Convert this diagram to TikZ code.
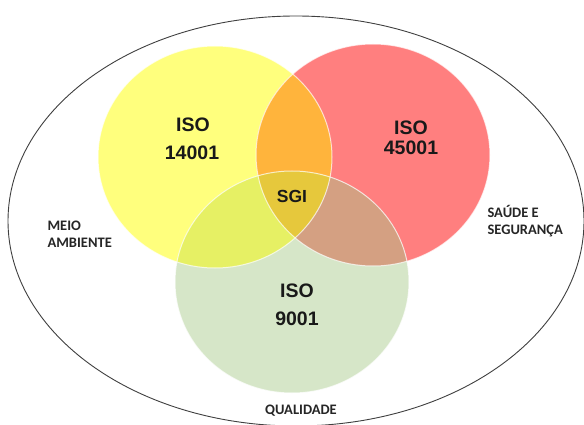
\documentclass[tikz,border=0pt]{standalone}
\usepackage{fontspec}
\setmainfont{Liberation Sans}
\newfontfamily\labelfont{Carlito}
\definecolor{cYel}{HTML}{FFFF7D}
\definecolor{cRed}{HTML}{FF7F7F}
\definecolor{cGrn}{HTML}{D6E6C8}
\definecolor{cYR}{HTML}{FFB43C}
\definecolor{cYG}{HTML}{E6F064}
\definecolor{cRG}{HTML}{D4A082}
\definecolor{cAll}{HTML}{E6C83C}
\definecolor{cLine}{HTML}{404040}
\begin{document}
\begin{tikzpicture}[x=1pt,y=-1pt,
  isolabel/.style={font=\bfseries\fontsize{19.5}{28}\selectfont, text=black!90, anchor=base},
  sidelabel/.style={font=\labelfont\bfseries\fontsize{14.5}{16}\selectfont, text=black!85, anchor=base west},
  rim/.style={draw=white, line width=1pt, draw opacity=0.7}]
\useasboundingbox (0,0) rectangle (584,425);
\clip (0,0) rectangle (584,425);
\fill[white] (0,0) rectangle (584,425);
% outer ellipse
\draw[cLine, line width=0.9pt] (296,221) ellipse [x radius=288, y radius=205];
% circles
\fill[cYel] (215,157) ellipse [x radius=117, y radius=111];
\fill[cRed] (373,155) ellipse [x radius=117, y radius=111];
\fill[cGrn] (292,282) ellipse [x radius=117, y radius=111];
\begin{scope}
  \clip (215,157) ellipse [x radius=117, y radius=111];
  \fill[cYR] (373,155) ellipse [x radius=117, y radius=111];
  \fill[cYG] (292,282) ellipse [x radius=117, y radius=111];
  \clip (373,155) ellipse [x radius=117, y radius=111];
  \fill[cAll] (292,282) ellipse [x radius=117, y radius=111];
\end{scope}
\begin{scope}[even odd rule]
  \clip (215,157) ellipse [x radius=117, y radius=111] (-10,-10) rectangle (600,440);
  \clip (373,155) ellipse [x radius=117, y radius=111];
  \fill[cRG] (292,282) ellipse [x radius=117, y radius=111];
\end{scope}
\draw[rim] (215,157) ellipse [x radius=117, y radius=111];
\draw[rim] (373,155) ellipse [x radius=117, y radius=111];
\draw[rim] (292,282) ellipse [x radius=117, y radius=111];
% labels
\node[isolabel] (iso14) at (193,132) {ISO};
\node[isolabel] (iso14n) at (192,160) {14001};
\node[isolabel] (iso45) at (411,135) {ISO};
\node[isolabel] (iso45n) at (411,155) {45001};
\node[isolabel] (iso9) at (297,297) {ISO};
\node[isolabel] (iso9n) at (297,325) {9001};
\node[isolabel, font=\bfseries\fontsize{17.5}{20}\selectfont] (sgi) at (292,203) {SGI};
\node[sidelabel] (meio) at (44,230) {MEIO};
\node[sidelabel] (amb) at (44,247) {AMBIENTE};
\node[sidelabel] (saude) at (484,218) {SAÚDE E};
\node[sidelabel] (seg) at (484,234) {SEGURANÇA};
\node[sidelabel, anchor=base] (qual) at (301,414) {QUALIDADE};
\end{tikzpicture}
\end{document}
